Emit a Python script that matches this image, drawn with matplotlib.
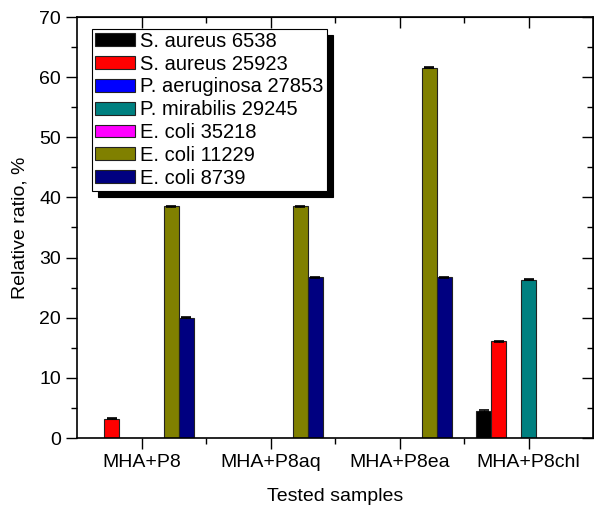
import matplotlib
matplotlib.use("Agg")
import matplotlib.pyplot as plt
import numpy as np
from matplotlib.ticker import MultipleLocator, FixedLocator

plt.rcParams['font.family'] = ['Liberation Sans', 'DejaVu Sans']

samples = ["MHA+P8", "MHA+P8aq", "MHA+P8ea", "MHA+P8chl"]
strains = ["S. aureus 6538", "S. aureus 25923", "P. aeruginosa 27853",
           "P. mirabilis 29245", "E. coli 35218", "E. coli 11229", "E. coli 8739"]
colors = ["#000000", "#FF0000", "#0000FF", "#008080", "#FF00FF", "#808000", "#000080"]

s_aureus_6538 = [0, 0, 0, 4.5]
s_aureus_25923 = [3.2, 0, 0, 16.1]
p_aeruginosa_27853 = [0, 0, 0, 0]
p_mirabilis_29245 = [0, 0, 0, 26.3]
e_coli_35218 = [0, 0, 0, 0]
e_coli_11229 = [38.5, 38.5, 61.6, 0]
e_coli_8739 = [20.0, 26.7, 26.7, 0]
errors = [0.1, 0.1, 0.1, 0.1]

series = [s_aureus_6538, s_aureus_25923, p_aeruginosa_27853, p_mirabilis_29245,
          e_coli_35218, e_coli_11229, e_coli_8739]

fig = plt.figure(figsize=(5.94, 5.11), dpi=100)
ax = fig.add_axes([77/594, 73/511, 516/594, 421/511])

x = np.arange(1, len(samples) + 1)
w = 0.116
n = len(series)
for i, (vals, c, lab) in enumerate(zip(series, colors, strains)):
    pos = x + (i - (n - 1) / 2) * w
    vals = np.array(vals)
    ax.bar(pos, vals, width=w, color=c, edgecolor='#222222', linewidth=0.8, label=lab, zorder=2)
    mask = vals > 0
    ax.errorbar(pos[mask], vals[mask], yerr=np.array(errors)[mask], fmt='none',
                ecolor='black', elinewidth=0.8, capsize=3.5, capthick=1.2, zorder=3)

ax.set_xlim(0.5, 4.5)
ax.set_ylim(0, 70)
ax.set_xticks(x)
ax.set_xticklabels(samples, fontsize=14)
ax.xaxis.set_minor_locator(FixedLocator([1.5, 2.5, 3.5]))
ax.yaxis.set_major_locator(MultipleLocator(10))
ax.yaxis.set_minor_locator(MultipleLocator(5))
ax.tick_params(axis='y', labelsize=14)
ax.tick_params(which='major', length=8, width=1)
ax.tick_params(which='minor', length=4.5, width=1)
ax.tick_params(axis='both', which='both', direction='out', top=False, right=False)

axt = ax.secondary_xaxis('top')
axt.set_xticks(x)
axt.xaxis.set_minor_locator(FixedLocator([1.5, 2.5, 3.5]))
axt.tick_params(which='both', direction='in', labeltop=False)
axt.tick_params(which='major', length=8, width=1)
axt.tick_params(which='minor', length=4.5, width=1)
axr = ax.secondary_yaxis('right')
axr.yaxis.set_major_locator(MultipleLocator(10))
axr.yaxis.set_minor_locator(MultipleLocator(5))
axr.tick_params(which='both', direction='in', labelright=False)
axr.tick_params(which='major', length=8, width=1)
axr.tick_params(which='minor', length=4.5, width=1)

for sp in ax.spines.values():
    sp.set_linewidth(1.2)

ax.set_xlabel("Tested samples", fontsize=14, labelpad=12)
ax.set_ylabel("Relative ratio, %", fontsize=14, labelpad=8)

leg = ax.legend(loc='upper left', bbox_to_anchor=(0.029, 0.972), fontsize=14.5,
                frameon=True, fancybox=False, edgecolor='black', framealpha=1,
                borderpad=0.15, labelspacing=0.19, handlelength=2.0, handleheight=0.6,
                handletextpad=0.25, borderaxespad=0,
                shadow={'ox': 4.3, 'oy': -4.3, 'color': 'black', 'alpha': 1})
leg.get_frame().set_linewidth(0.8)

fig.savefig("out.png", dpi=100)
